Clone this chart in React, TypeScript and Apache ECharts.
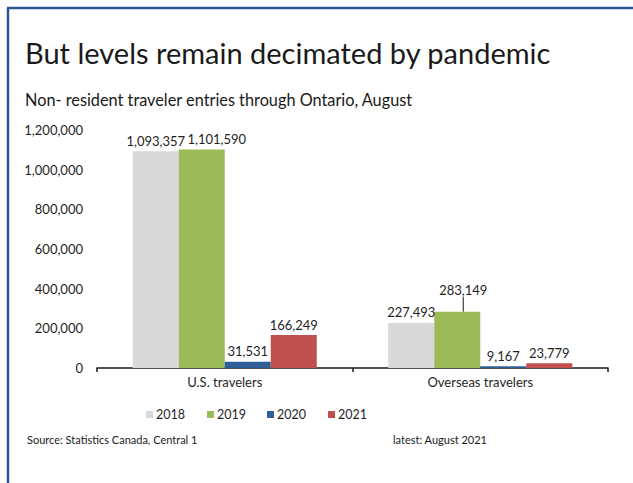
import React, { useEffect, useRef } from "react";
import * as echarts from "echarts";

const categories = ["U.S. travelers", "Overseas travelers"];
const years = ["2018", "2019", "2020", "2021"];
const values2018 = [1093357, 227493];
const values2019 = [1101590, 283149];
const values2020 = [31531, 9167];
const values2021 = [166249, 23779];
const yTicks = [0, 200000, 400000, 600000, 800000, 1000000, 1200000];

const colors = ["#d9d9d9", "#9bbb59", "#2f5f97", "#c0504d"];
const legendLefts = [146, 207, 267, 328];
const FONT = "Lato";
const TXT = "#1f1f1f";

const fmt = (v: number) => v.toLocaleString("en-US");

export default function App() {
  const ref = useRef<HTMLDivElement>(null);
  useEffect(() => {
    if (!ref.current) return;
    const chart = echarts.init(ref.current, null, { renderer: "svg" });
    const seriesData = [values2018, values2019, values2020, values2021];
    chart.setOption({
      animation: false,
      backgroundColor: "#ffffff",
      textStyle: { fontFamily: FONT, color: TXT },
      grid: { left: 97, right: 25, top: 130, bottom: 115, containLabel: false },
      xAxis: {
        type: "category",
        data: categories,
        axisLine: { show: true, lineStyle: { color: "#1a1a1a", width: 1.5 } },
        axisTick: { show: true, alignWithLabel: false, length: 4, lineStyle: { color: "#1a1a1a", width: 1.5 } },
        axisLabel: { fontFamily: FONT, fontSize: 13, color: TXT, margin: 7 },
      },
      yAxis: {
        type: "value",
        min: yTicks[0],
        max: yTicks[yTicks.length - 1],
        interval: 200000,
        axisLine: { show: false },
        axisTick: { show: false },
        splitLine: { show: false },
        axisLabel: { fontFamily: FONT, fontSize: 13, color: TXT, margin: 14, formatter: (v: number) => fmt(v) },
      },
      legend: years.map((y, i) => ({
        data: [y],
        left: legendLefts[i] - 5,
        top: 403,
        itemWidth: 7,
        itemHeight: 7,
        itemGap: 0,
        icon: "rect",
        textStyle: { fontFamily: FONT, fontSize: 12.5, color: TXT, padding: [0, 0, 0, -2] },
      })),
      series: years.map((y, i) => ({
        name: y,
        type: "bar",
        data: seriesData[i].map((v, j) =>
          i === 1 && j === 1
            ? { value: v, labelLine: { show: true, lineStyle: { color: "#1a1a1a", width: 1 } } }
            : { value: v }
        ),
        barWidth: 46,
        barGap: "0%",
        barCategoryGap: "27%",
        itemStyle: { color: colors[i] },
        label: {
          show: true,
          position: "top",
          distance: 4,
          fontFamily: FONT,
          fontSize: 13,
          color: TXT,
          formatter: (p: any) => fmt(p.value),
        },
        labelLine: { show: false },
        labelLayout: (p: any) => {
          if (i === 1 && p.dataIndex === 0) return { dx: 15 };
          if (i === 1 && p.dataIndex === 1) return { dx: 6, dy: -11 };
          return {};
        },
      })),
      graphic: [
        { type: "line", shape: { x1: 8, y1: 8, x2: 8, y2: 483 }, style: { stroke: "#2f5597", lineWidth: 2.5 } },
        { type: "line", shape: { x1: 7, y1: 8, x2: 633, y2: 8 }, style: { stroke: "#2f5597", lineWidth: 2.5 } },
        {
          type: "text",
          left: 25,
          top: 38,
          style: { text: "But levels remain decimated by pandemic", fontFamily: FONT, fontSize: 29, fill: "#1a1a1a" },
        },
        {
          type: "text",
          left: 25,
          top: 91,
          style: { text: "Non- resident traveler entries through Ontario, August", fontFamily: FONT, fontSize: 16.3, fill: "#1a1a1a" },
        },
        {
          type: "text",
          left: 27,
          top: 434,
          style: { text: "Source: Statistics Canada, Central 1", fontFamily: FONT, fontSize: 11, fill: "#1a1a1a" },
        },
        {
          type: "text",
          left: 393,
          top: 434,
          style: { text: "latest: August 2021", fontFamily: FONT, fontSize: 11, fill: "#1a1a1a" },
        },
      ],
    });
    return () => chart.dispose();
  }, []);
  return (
    <div
      ref={ref}
      style={{ position: "fixed", left: 0, top: 0, width: 633, height: 483 }}
    />
  );
}
